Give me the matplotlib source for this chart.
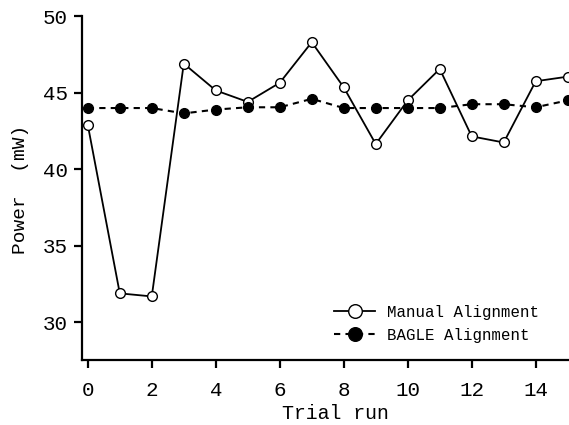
import matplotlib
matplotlib.use("Agg")
import matplotlib.pyplot as plt

trial = list(range(16))
manual = [42.9, 31.9, 31.7, 46.9, 45.15, 44.4, 45.65, 48.3, 45.35, 41.65,
          44.5, 46.55, 42.15, 41.75, 45.75, 46.05]
bagle = [44.0, 44.0, 44.0, 43.65, 43.9, 44.05, 44.05, 44.6, 44.0, 44.0,
         44.0, 44.0, 44.25, 44.25, 44.05, 44.5]
xticks = [0, 2, 4, 6, 8, 10, 12, 14]
yticks = [30, 35, 40, 45, 50]

plt.rcParams['font.family'] = ['Liberation Mono', 'DejaVu Sans Mono']

fig = plt.figure(figsize=(5.69, 4.25), dpi=100)
ax = fig.add_axes([0.1436, 0.153, 0.8564, 0.809])

ax.plot(trial, manual, '-', color='black', lw=1.3, marker='o', ms=7,
        mfc='white', mec='black', mew=1.0, label='Manual Alignment')
ax.plot(trial, bagle, '--', color='black', lw=1.5, marker='o', ms=7,
        mfc='black', mec='black', dashes=(3, 2.5), label='BAGLE Alignment')

ax.set_xlim(-0.19, 15.04)
ax.set_ylim(27.55, 50)
ax.set_xticks(xticks)
ax.set_yticks(yticks)
ax.tick_params(direction='out', length=6, width=1.6, labelsize=15)
ax.tick_params(axis='x', pad=9)
ax.tick_params(axis='y', pad=4)
for s in ['top', 'right']:
    ax.spines[s].set_visible(False)
for s in ['left', 'bottom']:
    ax.spines[s].set_linewidth(1.6)

ax.set_xlabel('Trial run', fontsize=14.3)
ax.set_ylabel('Power  (mW)', fontsize=14)
ax.xaxis.set_label_coords(0.52, -0.127)
ax.yaxis.set_label_coords(-0.108, 0.497)

ax.legend(loc='lower right', frameon=False, fontsize=11.3, handlelength=2.6,
          handletextpad=0.8, markerscale=1.4, labelspacing=0.5,
          bbox_to_anchor=(0.962, 0.018), borderaxespad=0.3)

fig.savefig('out.png', dpi=100)
